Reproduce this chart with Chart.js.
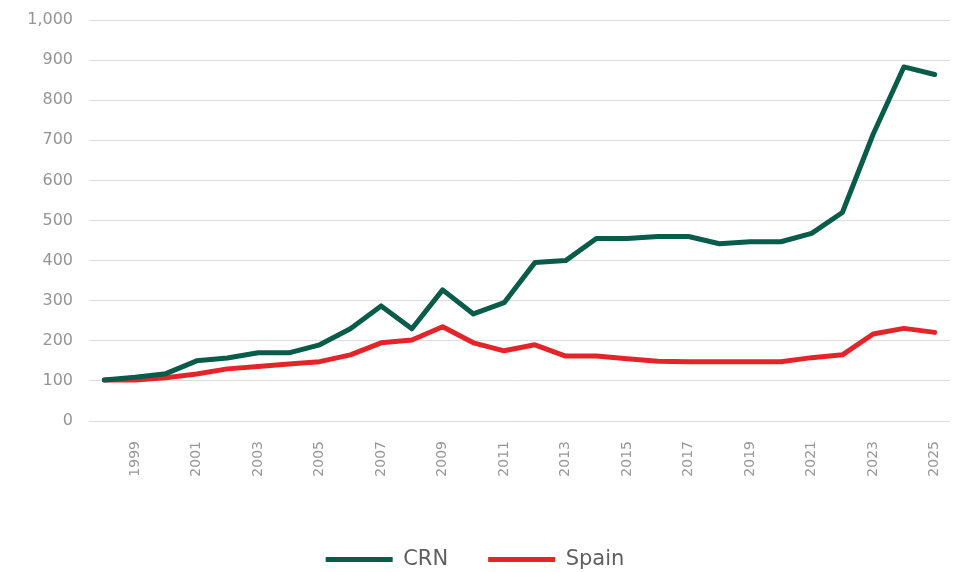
<!DOCTYPE html>
<html>
<head>
<meta charset="utf-8">
<script src="https://cdn.jsdelivr.net/npm/chart.js@4/dist/chart.umd.min.js"></script>
<style>
  html, body { margin: 0; padding: 0; background: #fff; }
  #wrap { width: 957px; height: 572px; position: relative; }
</style>
</head>
<body>
<div id="wrap"><canvas id="c" width="957" height="572"></canvas></div>
<script>
const years = [1998,1999,2000,2001,2002,2003,2004,2005,2006,2007,2008,2009,2010,2011,2012,2013,2014,2015,2016,2017,2018,2019,2020,2021,2022,2023,2024,2025];
const crn   = [102,109,118,150,157,170,170,190,230,287,230,327,267,295,395,400,455,455,460,460,442,447,447,468,520,715,883,864];
const spain = [102,102,108,117,130,136,142,148,165,195,202,235,195,175,190,162,162,155,149,148,148,148,148,158,165,217,231,221];
const yTicks = [0,100,200,300,400,500,600,700,800,900,1000];

const FONT = "'DejaVu Sans', 'Noto Sans', sans-serif";

new Chart(document.getElementById('c'), {
  type: 'line',
  data: {
    labels: years.map(String),
    datasets: [
      { label: 'CRN', data: crn, borderColor: '#0a5c4a', backgroundColor: '#0a5c4a',
        borderWidth: 5, pointRadius: 0, tension: 0, borderCapStyle: 'round', borderJoinStyle: 'round' },
      { label: 'Spain', data: spain, borderColor: '#e3252a', backgroundColor: '#e3252a',
        borderWidth: 5, pointRadius: 0, tension: 0, borderCapStyle: 'round', borderJoinStyle: 'round' }
    ]
  },
  options: {
    responsive: false,
    animation: false,
    layout: { padding: { top: 20, right: 7, left: 0, bottom: -8 } },
    plugins: {
      tooltip: { enabled: false },
      legend: {
        position: 'bottom',
        labels: {
          usePointStyle: true,
          pointStyle: 'line',
          pointStyleWidth: 67,
          boxHeight: 5,
          padding: 40,
          color: '#5f5f5f',
          font: { family: FONT, size: 21 }
        }
      }
    },
    scales: {
      x: {
        offset: true,
        grid: { display: false },
        border: { display: false },
        afterFit: s => { s.height = 88; s.paddingLeft = 0; s.paddingRight = 0; },
        ticks: {
          autoSkip: false,
          minRotation: 90,
          maxRotation: 90,
          padding: 12,
          color: '#979797',
          font: { family: FONT, size: 14 },
          callback: function(v, i) { const y = years[i]; return (y % 2 === 1) ? String(y) : ''; }
        }
      },
      y: {
        min: 0, max: 1000,
        afterBuildTicks: s => { s.ticks = yTicks.map(v => ({ value: v })); },
        afterFit: s => { s.width = 89; s.paddingTop = 0; s.paddingBottom = 0; },
        grid: { color: '#dcdcdc', lineWidth: 1, drawTicks: false },
        border: { display: false },
        ticks: {
          padding: 16,
          color: '#959595',
          font: { family: FONT, size: 16 },
          callback: v => v.toLocaleString('en-US')
        }
      }
    }
  }
});
</script>
</body>
</html>
